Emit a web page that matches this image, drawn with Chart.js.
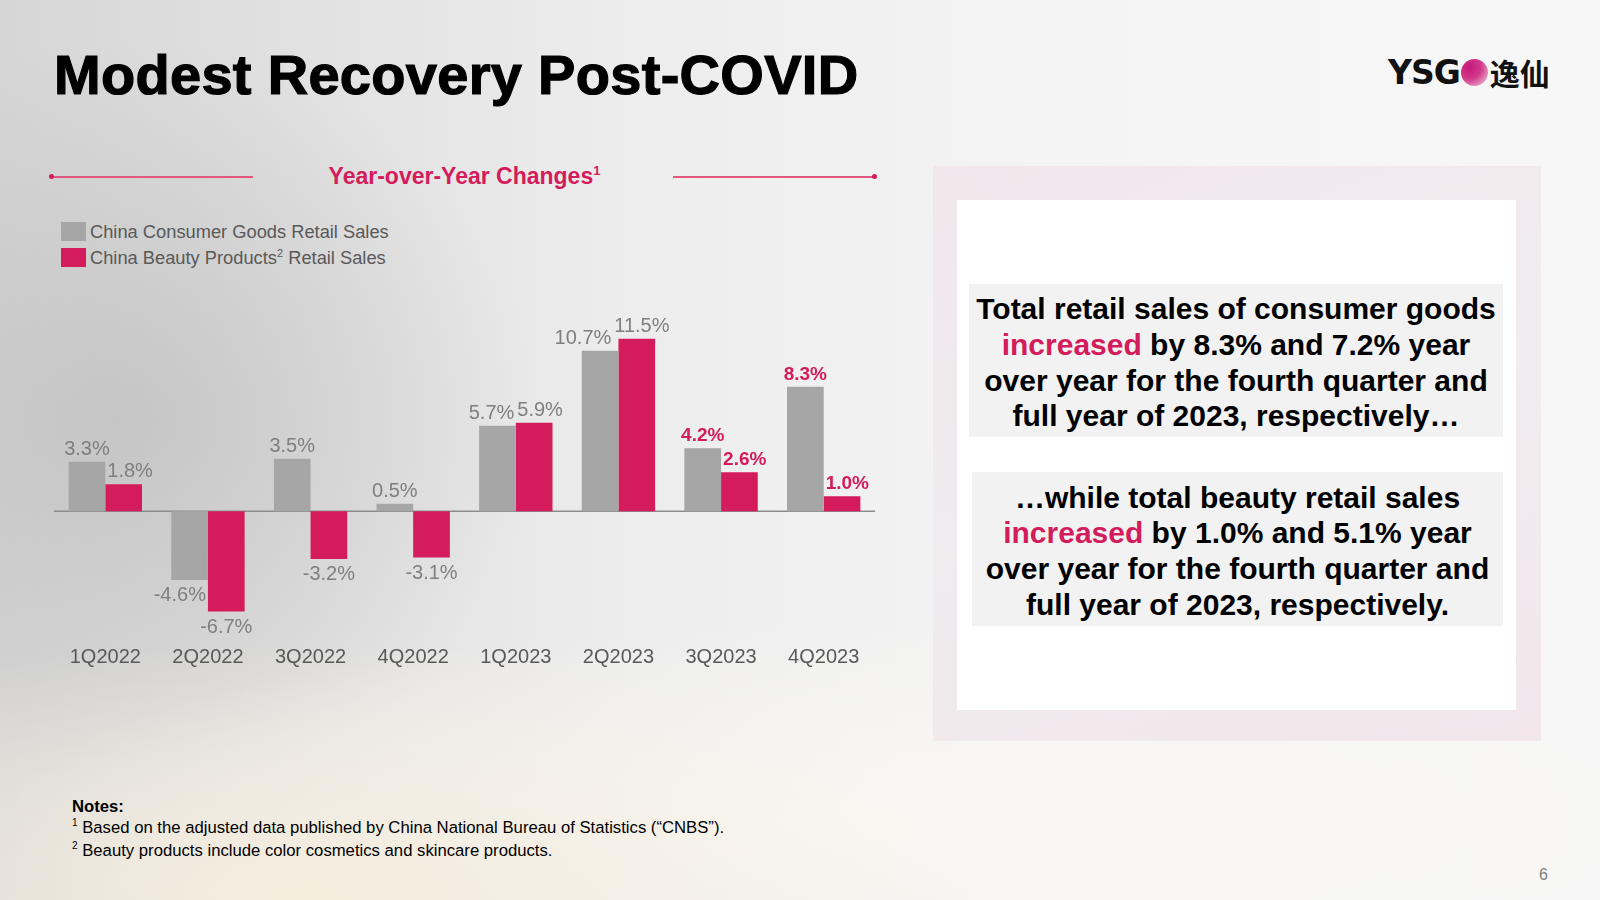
<!DOCTYPE html>
<html>
<head>
<meta charset="utf-8">
<script src="https://cdn.jsdelivr.net/npm/chart.js@4.4.0/dist/chart.umd.min.js"></script>
<style>
  html, body { margin:0; padding:0; }
  body {
    width:1600px; height:900px; position:relative; overflow:hidden;
    font-family:"Liberation Sans", Arial, sans-serif;
    background:
      radial-gradient(ellipse 700px 260px at 300px 900px, rgba(246,238,222,0.95), rgba(246,238,222,0) 100%),
      radial-gradient(ellipse 900px 200px at 900px 820px, rgba(250,248,244,0.9), rgba(250,248,244,0) 100%),
      radial-gradient(ellipse 420px 380px at 120px 420px, rgba(190,190,190,0.75), rgba(200,200,200,0) 100%),
      linear-gradient(90deg, #d6d6d6 0%, #e2e2e2 20%, #ededed 40%, #f4f4f4 65%, #f7f7f7 100%);
  }
  .abs { position:absolute; }
  sup { line-height:0; vertical-align:super; }
  #title { left:54px; top:42px; font-size:56px; font-weight:bold; color:#000;
           -webkit-text-stroke:1.2px #000; letter-spacing:0.3px; white-space:nowrap; }
  #logo { left:1388px; top:50px; height:40px; white-space:nowrap; }
  #logo .ysg { font-family:"DejaVu Sans", sans-serif; font-weight:bold; font-size:33px; letter-spacing:-1px; color:#111; vertical-align:middle; }
  #logo .dot { display:inline-block; width:27px; height:27px; border-radius:50%; vertical-align:middle; margin:0 2px 0 1px;
               background:radial-gradient(circle at 30% 30%, #c8187a, #d03a8a 45%, #f3d6e6 100%); }
  #logo .cn { font-family:"Noto Sans CJK SC", sans-serif; font-weight:bold; font-size:30px; color:#111; vertical-align:middle; }
  #subhead { left:54px; width:821px; top:163px; text-align:center; font-size:23px; font-weight:bold; color:#d41c5c; }
  #subhead sup { font-size:13px; }
  .rule { height:1.5px; background:#e0577f; top:176px; }
  .rule i { position:absolute; top:-2px; width:5px; height:5px; border-radius:50%; background:#d41c5c; }
  #legend { left:61px; top:221px; font-size:18.3px; color:#595959; }
  #legend div { height:25.5px; line-height:21px; white-space:nowrap; }
  #legend span.sw { display:inline-block; width:25px; height:19px; vertical-align:-3px; margin-right:4px; }
  #legend sup { font-size:11px; }
  #chartBox { left:44px; top:290px; width:841px; height:393px; }
  #panel { left:933px; top:166px; width:608px; height:575px;
           background:linear-gradient(160deg, rgba(240,228,234,0.8), rgba(238,232,236,0.7) 50%, rgba(240,226,232,0.8)); }
  #inner { left:957px; top:200px; width:559px; height:510px; background:#fff; }
  .tbox { background:#f2f2f2; text-align:center; font-weight:bold; font-size:30px; line-height:35.8px; color:#000; box-sizing:border-box; }
  .tbox b { color:#d41c5c; }
  #t1 { left:969px; top:284px; width:534px; height:153px; padding-top:7px; }
  #t2 { left:972px; top:472px; width:531px; height:154px; padding-top:7.5px; }
  .note { left:72px; font-size:16.7px; color:#000; white-space:nowrap; }
  .note sup { font-size:10px; }
  #page { left:1539px; top:866px; font-size:16px; color:#808080; }
</style>
</head>
<body>
<div id="title" class="abs">Modest Recovery Post-COVID</div>
<div id="logo" class="abs"><span class="ysg">YSG</span><span class="dot"></span><span class="cn">逸仙</span></div>

<div class="abs rule" style="left:51px; width:202px;"><i style="left:-2px"></i></div>
<div class="abs rule" style="left:673px; width:202px;"><i style="right:-2px"></i></div>
<div id="subhead" class="abs">Year-over-Year Changes<sup>1</sup></div>

<div id="legend" class="abs"></div>
<div id="chartBox" class="abs"><canvas id="chart"></canvas></div>

<div id="panel" class="abs"></div>
<div id="inner" class="abs"></div>
<div id="t1" class="abs tbox">Total retail sales of consumer goods<br><b>increased</b> by 8.3% and 7.2% year<br>over year for the fourth quarter and<br>full year of 2023, respectively…</div>
<div id="t2" class="abs tbox">…while total beauty retail sales<br><b>increased</b> by 1.0% and 5.1% year<br>over year for the fourth quarter and<br>full year of 2023, respectively.</div>

<div class="abs note" style="top:797px"><b>Notes:</b></div>
<div class="abs note" style="top:818px"><sup>1</sup> Based on the adjusted data published by China National Bureau of Statistics (“CNBS”).</div>
<div class="abs note" style="top:841px"><sup>2</sup> Beauty products include color cosmetics and skincare products.</div>
<div id="page" class="abs">6</div>

<script>
// ---- data ----
const categories = ["1Q2022","2Q2022","3Q2022","4Q2022","1Q2023","2Q2023","3Q2023","4Q2023"];
const consumerGoods = [3.3, -4.6, 3.5, 0.5, 5.7, 10.7, 4.2, 8.3];
const beautyProducts = [1.8, -6.7, -3.2, -3.1, 5.9, 11.5, 2.6, 1.0];
const seriesNames = ["China Consumer Goods Retail Sales", "China Beauty Products<sup>2</sup> Retail Sales"];
const highlighted = ["3Q2023","4Q2023"];

const GRAY = "#a6a6a6";
const PINK = "#d41c5c";
const FONT = '"Liberation Sans", Arial, sans-serif';

/* legend (html) */
document.getElementById("legend").innerHTML =
  [GRAY, PINK].map((c,i)=>`<div><span class="sw" style="background:${c}"></span>${seriesNames[i]}</div>`).join("");

/* zero line + value labels */
const barLabels = {
  id:"barLabels",
  beforeDatasetsDraw(chart){
    const {ctx, chartArea} = chart;
    const y0 = chart.scales.y.getPixelForValue(0);
    ctx.save();
    ctx.strokeStyle = "#8c8c8c";
    ctx.lineWidth = 1.5;
    ctx.beginPath();
    ctx.moveTo(chartArea.left, y0);
    ctx.lineTo(chartArea.right, y0);
    ctx.stroke();
    ctx.restore();
  },
  afterDatasetsDraw(chart){
    const ctx = chart.ctx;
    const sets = chart.data.datasets;
    const metas = sets.map((d,i)=>chart.getDatasetMeta(i));
    const gap = 7;
    ctx.save();
    categories.forEach((cat, j)=>{
      const hot = highlighted.includes(cat);
      const size = hot ? 19 : 20;
      ctx.font = (hot ? "bold " : "") + size + "px " + FONT;
      const capH = size * 0.72;
      const boxes = metas.map((meta, i)=>{
        const bar = meta.data[j];
        const v = sets[i].data[j];
        const text = v.toFixed(1) + "%";
        const w = ctx.measureText(text).width;
        const base = v >= 0 ? bar.y - gap : bar.y + gap + capH;
        return {text, w, cx:bar.x, top:base - capH, bottom:base, base};
      });
      // keep each label off the neighbouring bar
      boxes.forEach((b, i)=>{
        const other = metas[1-i].data[j];
        const top = Math.min(other.y, other.base), bottom = Math.max(other.y, other.base);
        if (b.bottom > top && b.top < bottom) {
          const half = other.width/2;
          if (i === 0) b.cx = Math.min(b.cx, other.x - half - 2 - b.w/2);
          else b.cx = Math.max(b.cx, other.x + half + 2 + b.w/2);
        }
      });
      // keep the two labels apart
      const a = boxes[0], c = boxes[1];
      if (a.bottom > c.top && a.top < c.bottom) {
        const overlap = (a.cx + a.w/2 + 3) - (c.cx - c.w/2);
        if (overlap > 0) { a.cx -= overlap/2; c.cx += overlap/2; }
      }
      ctx.fillStyle = hot ? PINK : "#7f7f7f";
      ctx.textAlign = "center";
      ctx.textBaseline = "alphabetic";
      boxes.forEach(b=>ctx.fillText(b.text, b.cx, b.base));
    });
    ctx.restore();
  }
};

new Chart(document.getElementById("chart"), {
  type:"bar",
  data:{
    labels:categories,
    datasets:[
      {label:"China Consumer Goods Retail Sales", data:consumerGoods, backgroundColor:GRAY},
      {label:"China Beauty Products² Retail Sales", data:beautyProducts, backgroundColor:PINK}
    ]
  },
  options:{
    responsive:true,
    maintainAspectRatio:false,
    animation:false,
    layout:{padding:{left:10, right:10, top:11.4, bottom:0}},
    datasets:{bar:{categoryPercentage:0.715, barPercentage:1}},
    plugins:{legend:{display:false}, tooltip:{enabled:false}},
    scales:{
      x:{
        grid:{display:false, drawTicks:false},
        border:{display:false},
        ticks:{color:"#595959", font:{size:20, family:FONT}, padding:14}
      },
      y:{
        display:false,
        min:-8, max:14
      }
    }
  },
  plugins:[barLabels]
});
</script>
</body>
</html>
